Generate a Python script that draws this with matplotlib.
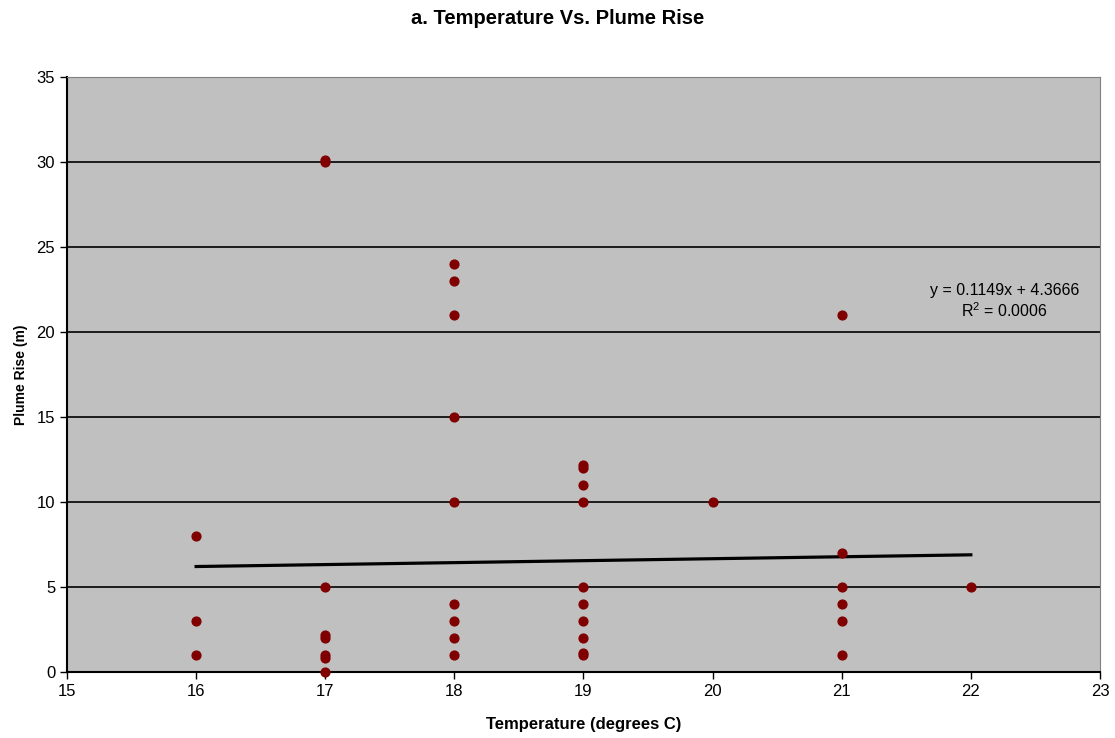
import numpy as np
import matplotlib.pyplot as plt

plt.rcParams["font.family"] = ["Liberation Sans", "DejaVu Sans"]

# Observations: temperature (deg C) and plume rise (m)
temperature = [16, 16, 16,
               17, 17, 17, 17, 17, 17, 17, 17,
               18, 18, 18, 18, 18, 18, 18, 18, 18,
               19, 19, 19, 19, 19, 19, 19, 19, 19, 19,
               20,
               21, 21, 21, 21, 21, 21,
               22]
plume_rise = [8, 3, 1,
              30, 30.1, 5, 2, 2.2, 1, 0.8, 0,
              24, 23, 21, 15, 10, 4, 3, 2, 1,
              12, 12.2, 11, 10, 5, 4, 3, 2, 1, 1.1,
              10,
              21, 7, 5, 4, 3, 1,
              5]

# Linear trendline as reported
slope = 0.1149
intercept = 4.3666
r_squared = 0.0006

fig = plt.figure(figsize=(11.15, 7.38), dpi=100)
ax = fig.add_axes([0.0601, 0.0894, 0.9264, 0.8063])
ax.set_facecolor("#c0c0c0")

ax.set_xlim(15, 23)
ax.set_ylim(0, 35)
ax.set_xticks(range(15, 24))
ax.set_yticks(range(0, 36, 5))
ax.yaxis.grid(True, color="black", linewidth=1.2)
ax.set_axisbelow(True)

for side in ("top", "right"):
    ax.spines[side].set_color("#808080")
for side in ("left", "bottom"):
    ax.spines[side].set_color("black")
    ax.spines[side].set_linewidth(1.5)
ax.tick_params(direction="out", length=5, width=1, labelsize=12)

xfit = np.array([min(temperature), max(temperature)])
ax.plot(xfit, slope * xfit + intercept, color="black", linewidth=2.3, zorder=2)

ax.scatter(temperature, plume_rise, s=40, color="#800000", zorder=3, clip_on=False)

ax.text(22.26, 21.8, f"y = {slope}x + {intercept}\n$\\mathregular{{R^2}}$ = {r_squared:.4f}",
        ha="center", va="center", fontsize=11.5, linespacing=1.2)

ax.set_xlabel("Temperature (degrees C)", fontsize=12, fontweight="bold", labelpad=13)
ax.set_ylabel("Plume Rise (m)", fontsize=10, fontweight="bold", labelpad=6)
fig.suptitle("a. Temperature Vs. Plume Rise", fontsize=14.5, fontweight="bold", y=0.988)

fig.savefig("out.png", dpi=100)
